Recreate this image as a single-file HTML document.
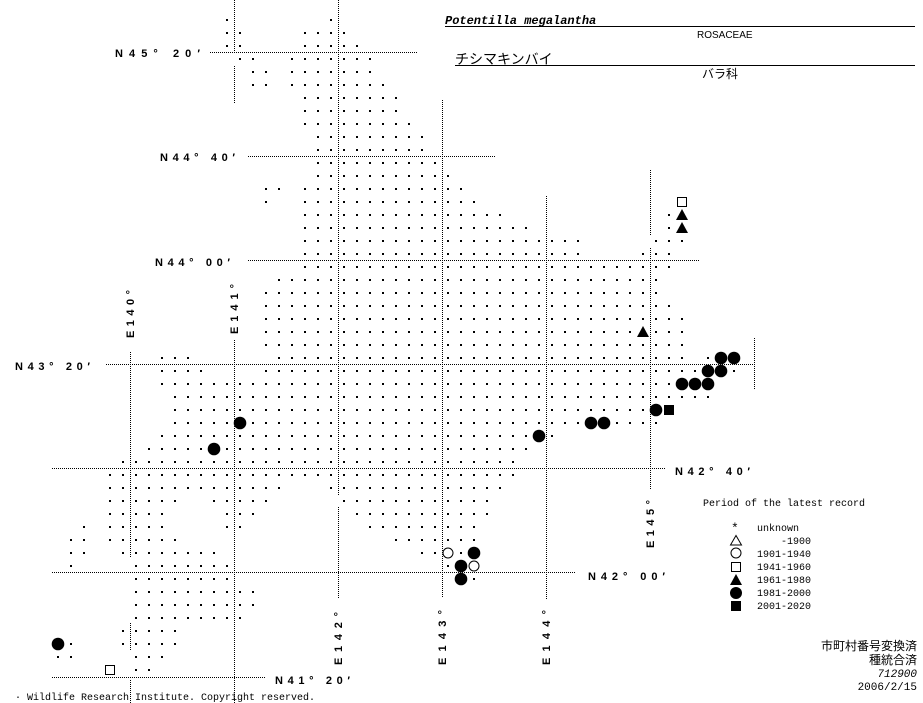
<!DOCTYPE html>
<html><head><meta charset="utf-8"><style>
html,body{margin:0;padding:0;background:#fff;width:923px;height:703px;overflow:hidden}
svg{display:block}
.lab{font-family:"Liberation Sans",sans-serif;font-weight:bold;font-size:11px;fill:#000}
.mono{font-family:"Liberation Mono","DejaVu Sans Mono",monospace;font-size:10px;fill:#000}
.jp{font-family:"Liberation Sans","Noto Sans CJK JP",sans-serif;font-size:12px;fill:#000}
</style></head><body>
<svg id="s" width="923" height="703" xmlns="http://www.w3.org/2000/svg" shape-rendering="crispEdges">
<g stroke="#000" stroke-width="1" stroke-dasharray="1 1" fill="none">
<line x1="210" y1="52.5" x2="417" y2="52.5"/>
<line x1="248" y1="156.5" x2="495" y2="156.5"/>
<line x1="248" y1="260.5" x2="700" y2="260.5"/>
<line x1="106" y1="364.5" x2="755" y2="364.5"/>
<line x1="52" y1="468.5" x2="665" y2="468.5"/>
<line x1="52" y1="572.5" x2="575" y2="572.5"/>
<line x1="52" y1="677.5" x2="265" y2="677.5"/>
<line x1="130.5" y1="352" x2="130.5" y2="557"/>
<line x1="130.5" y1="623" x2="130.5" y2="650"/>
<line x1="130.5" y1="680" x2="130.5" y2="703"/>
<line x1="234.5" y1="0" x2="234.5" y2="52"/>
<line x1="234.5" y1="66" x2="234.5" y2="104"/>
<line x1="234.5" y1="340" x2="234.5" y2="703"/>
<line x1="338.5" y1="0" x2="338.5" y2="495"/>
<line x1="338.5" y1="507" x2="338.5" y2="598"/>
<line x1="442.5" y1="100" x2="442.5" y2="598"/>
<line x1="546.5" y1="196" x2="546.5" y2="600"/>
<line x1="650.5" y1="170" x2="650.5" y2="235"/>
<line x1="650.5" y1="248" x2="650.5" y2="490"/>
<line x1="754.5" y1="338" x2="754.5" y2="390"/>
</g>
<g id="dots" fill="#000"></g>
<g class="lab">
<text x="115" y="57" textLength="85" lengthAdjust="spacing">N45° 20′</text>
<text x="160" y="161" textLength="75" lengthAdjust="spacing">N44° 40′</text>
<text x="155" y="266" textLength="75" lengthAdjust="spacing">N44° 00′</text>
<text x="15" y="370" textLength="75" lengthAdjust="spacing">N43° 20′</text>
<text x="675" y="475" textLength="75" lengthAdjust="spacing">N42° 40′</text>
<text x="588" y="580" textLength="77" lengthAdjust="spacing">N42° 00′</text>
<text x="275" y="684" textLength="75" lengthAdjust="spacing">N41° 20′</text>
<text transform="translate(134,338) rotate(-90)" textLength="48" lengthAdjust="spacing">E140°</text>
<text transform="translate(238,334) rotate(-90)" textLength="50" lengthAdjust="spacing">E141°</text>
<text transform="translate(342,665) rotate(-90)" textLength="53" lengthAdjust="spacing">E142°</text>
<text transform="translate(446,665) rotate(-90)" textLength="55" lengthAdjust="spacing">E143°</text>
<text transform="translate(550,665) rotate(-90)" textLength="55" lengthAdjust="spacing">E144°</text>
<text transform="translate(654,548) rotate(-90)" textLength="48" lengthAdjust="spacing">E145°</text>
</g>
<text x="445" y="24" font-family="Liberation Mono,monospace" font-weight="bold" font-style="italic" font-size="12">Potentilla megalantha</text>
<line x1="445" y1="26.5" x2="915" y2="26.5" stroke="#000"/>
<text x="697" y="38" font-family="Liberation Sans,sans-serif" font-size="10">ROSACEAE</text>
<text x="455" y="64" class="jp" style="font-size:14px">チシマキンバイ</text>
<line x1="455" y1="65.5" x2="915" y2="65.5" stroke="#000"/>
<text x="702" y="78" class="jp">バラ科</text>
<text x="703" y="506" class="mono">Period of the latest record</text>
<g class="mono">
<text x="731" y="532" style="font-size:13px">*</text>
<text x="757" y="531">unknown</text>
<text x="811" y="544" text-anchor="end">-1900</text>
<text x="757" y="557">1901-1940</text>
<text x="757" y="570">1941-1960</text>
<text x="757" y="583">1961-1980</text>
<text x="757" y="596">1981-2000</text>
<text x="757" y="609">2001-2020</text>
</g>
<g shape-rendering="auto">
<polygon points="736,535.5 730.5,545 741.5,545" fill="none" stroke="#000"/>
<circle cx="736" cy="553" r="5" fill="none" stroke="#000"/>
<rect x="731.5" y="562.5" width="9" height="9" fill="none" stroke="#000"/>
<polygon points="736,574 730,585 742,585" fill="#000"/>
<circle cx="736" cy="593" r="6" fill="#000"/>
<rect x="731" y="601" width="10" height="10" fill="#000"/>
</g>
<g class="jp" text-anchor="end">
<text x="917" y="650">市町村番号変換済</text>
<text x="917" y="664">種統合済</text>
<text x="917" y="677" style="font-style:italic;font-family:'Liberation Mono',monospace;font-size:11px">712900</text>
<text x="917" y="690" style="font-family:'Liberation Mono',monospace;font-size:11px">2006/2/15</text>
</g>
<text x="15" y="700" class="mono">· Wildlife Research Institute. Copyright reserved.</text>
</svg>
<script>
var R={0:[[0,0],[8,8]],1:[[0,1],[6,9]],2:[[0,1],[6,10]],3:[[1,2],[5,11]],4:[[2,3],[5,11]],5:[[2,3],[5,12]],6:[[6,13]],7:[[6,13]],8:[[6,14]],9:[[7,15]],10:[[7,15]],11:[[7,16]],12:[[7,17]],13:[[3,4],[6,18]],14:[[3,3],[6,19]],15:[[6,21],[34,34]],16:[[6,23],[34,34]],17:[[6,27],[33,35]],18:[[6,27],[32,34]],19:[[6,34]],20:[[4,33]],21:[[3,33]],22:[[3,34]],23:[[3,35]],24:[[3,35]],25:[[3,35]],26:[[-5,-3],[4,35],[37,37]],27:[[-5,-2],[3,36],[39,39]],28:[[-5,34]],29:[[-4,37]],30:[[-4,32]],31:[[-4,33]],32:[[-5,25]],33:[[-6,23]],34:[[-8,22]],35:[[-9,22]],36:[[-9,4],[8,21]],37:[[-9,-4],[-1,3],[9,20]],38:[[-9,-5],[0,2],[10,20]],39:[[-11,-11],[-9,-5],[0,1],[11,19]],40:[[-12,-11],[-9,-4],[13,19]],41:[[-12,-11],[-8,-1],[15,19]],42:[[-12,-12],[-7,0],[17,19]],43:[[-7,0],[18,19]],44:[[-7,2]],45:[[-7,2]],46:[[-7,1]],47:[[-8,-4]],48:[[-12,-12],[-8,-4]],49:[[-13,-12],[-7,-5]],50:[[-7,-6]]};
var M=[[14,35,'os'],[15,35,'t'],[16,35,'t'],[24,32,'t'],[26,38,'c'],[26,39,'c'],[27,37,'c'],[27,38,'c'],[28,35,'c'],[28,36,'c'],[28,37,'c'],[30,33,'c'],[30,34,'s'],[31,28,'c'],[31,29,'c'],[31,1,'c'],[32,24,'c'],[33,-1,'c'],[41,19,'c'],[42,18,'c'],[43,18,'c'],[48,-13,'c'],[41,17,'oc'],[42,19,'oc'],[50,-9,'os']];
var mk={};M.forEach(function(m){mk[m[0]+','+m[1]]=1});
var h='';
for(var r in R){R[r].forEach(function(a){for(var c=a[0];c<=a[1];c++){if(mk[r+','+c])continue;var x=227+13*c,y=20+13*r;h+='<rect x="'+(x-1)+'" y="'+(y-1)+'" width="2" height="2"/>';}});}
M.forEach(function(m){var x=227+13*m[1],y=20+13*m[0],t=m[2];
if(t=='c')h+='<circle shape-rendering="auto" cx="'+x+'" cy="'+y+'" r="6.3"/>';
else if(t=='oc')h+='<circle shape-rendering="auto" cx="'+x+'" cy="'+y+'" r="5" fill="#fff" stroke="#000"/>';
else if(t=='s')h+='<rect x="'+(x-5)+'" y="'+(y-5)+'" width="10" height="10"/>';
else if(t=='os')h+='<rect x="'+(x-4.5)+'" y="'+(y-4.5)+'" width="9" height="9" fill="#fff" stroke="#000"/>';
else if(t=='t')h+='<polygon shape-rendering="auto" points="'+x+','+(y-6)+' '+(x-6)+','+(y+5)+' '+(x+6)+','+(y+5)+'"/>';});
document.getElementById('dots').innerHTML=h;
</script>
</body></html>
